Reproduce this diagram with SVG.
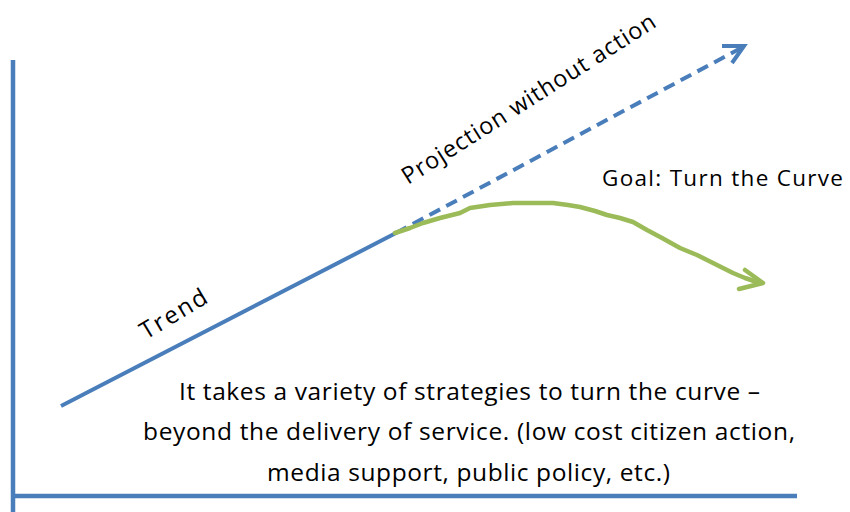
<svg xmlns="http://www.w3.org/2000/svg" width="850" height="512" viewBox="0 0 850 512">
<style>
.ax{stroke:#4A7EBB;stroke-width:4.5;fill:none}
.bl{stroke:#4A7EBB;stroke-width:4;fill:none;stroke-linecap:butt}
.gr{stroke:#9BBB59;stroke-width:4.5;fill:none;stroke-linejoin:round;stroke-linecap:round}
.t{font-family:"Open Sans","Liberation Sans",sans-serif;fill:#000}
</style>
<rect width="850" height="512" fill="#fff"/>
<g id="axes">
<line class="ax" x1="13" y1="60" x2="13" y2="512"/>
<line class="ax" x1="11" y1="496" x2="797" y2="496"/>
</g>
<g id="connectors">
<line id="trend-line" class="bl" x1="61" y1="406" x2="396" y2="233"/>
<g id="projection-line">
<line class="bl" x1="396" y1="233" x2="741" y2="48" stroke-dasharray="12 7"/>
<polyline class="bl" points="722,46 744,46 732,63" stroke-linejoin="miter" stroke-linecap="round"/>
</g>
<g id="goal-curve">
<path class="gr" d="M395,233 L410,228 L423,223 L440,218 L460,213 L470,208 L490,205 L513,203 L535,203 L553,203 L568,205 L580,207 L595,211 L607,215 L620,218 L633,222 L647,230 L662,238 L680,248 L697,255 L713,263 L733,273 L745,278 L757,282"/>
<polyline class="gr" points="745,270 763,283 739,289"/>
</g>
</g>
<g id="label-trend"><text class="t" font-size="24" transform="translate(146,340) rotate(-31)" textLength="74">Trend</text></g>
<g id="label-projection"><text class="t" font-size="23.5" transform="translate(408,185) rotate(-32.5)" textLength="296">Projection without action</text></g>
<g id="label-goal"><text class="t" font-size="22.5" x="602" y="186" textLength="241">Goal: Turn the Curve</text></g>
<g id="label-note" class="t" font-size="24.5" text-anchor="middle">
<text x="469.5" y="400" textLength="581">It takes a variety of strategies to turn the curve –</text>
<text x="469" y="440" textLength="652">beyond the delivery of service. (low cost citizen action,</text>
<text x="468.5" y="481" textLength="403">media support, public policy, etc.)</text>
</g>
</svg>
